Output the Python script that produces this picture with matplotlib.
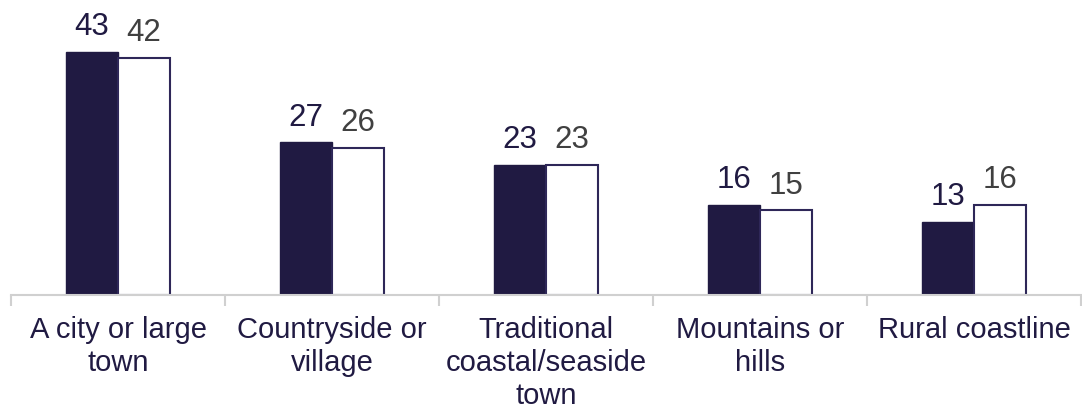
import numpy as np
import matplotlib
matplotlib.use("Agg")
import matplotlib.pyplot as plt

plt.rcParams['font.family'] = ['Liberation Sans', 'DejaVu Sans']

categories = ["A city or large\ntown", "Countryside or\nvillage", "Traditional\ncoastal/seaside\ntown",
              "Mountains or\nhills", "Rural coastline"]
series_a = [43, 27, 23, 16, 13]
series_b = [42, 26, 23, 15, 16]

navy = "#201a42"
grey_text = "#404040"

fig = plt.figure(figsize=(10.82, 4.11), dpi=100)
ax = fig.add_axes([11 / 1082, 116 / 411, 1070 / 1082, 295 / 411])

x = np.arange(len(categories))
w = 52 / 214
ax.bar(x - w / 2, series_a, width=w, color=navy, edgecolor=navy, linewidth=1.0)
ax.bar(x + w / 2, series_b, width=w, color="white", edgecolor="#2e2758", linewidth=1.5)

for xi, a, b in zip(x, series_a, series_b):
    ax.annotate(str(a), (xi - w / 2, a), xytext=(0, 7), textcoords="offset points",
                ha="center", va="bottom", fontsize=22.5, color=navy)
    ax.annotate(str(b), (xi + w / 2, b), xytext=(0, 7), textcoords="offset points",
                ha="center", va="bottom", fontsize=22.5, color=grey_text)

ax.set_xlim(-0.5, len(categories) - 0.5)
ax.set_ylim(0, 52.2)

for s in ["top", "right", "left"]:
    ax.spines[s].set_visible(False)
ax.spines["bottom"].set_color("#d0d0d0")
ax.spines["bottom"].set_linewidth(1.5)
ax.set_yticks([])

ax.set_xticks(np.arange(len(categories) + 1) - 0.5)
ax.set_xticklabels([])
ax.tick_params(axis="x", length=8, width=1.5, color="#d0d0d0", direction="out")
ax.set_xticks(x, minor=True)
ax.set_xticklabels(categories, minor=True, fontsize=21, color=navy, linespacing=1.22)
ax.tick_params(axis="x", which="minor", length=0, pad=15)

fig.savefig("out.png", dpi=100)
